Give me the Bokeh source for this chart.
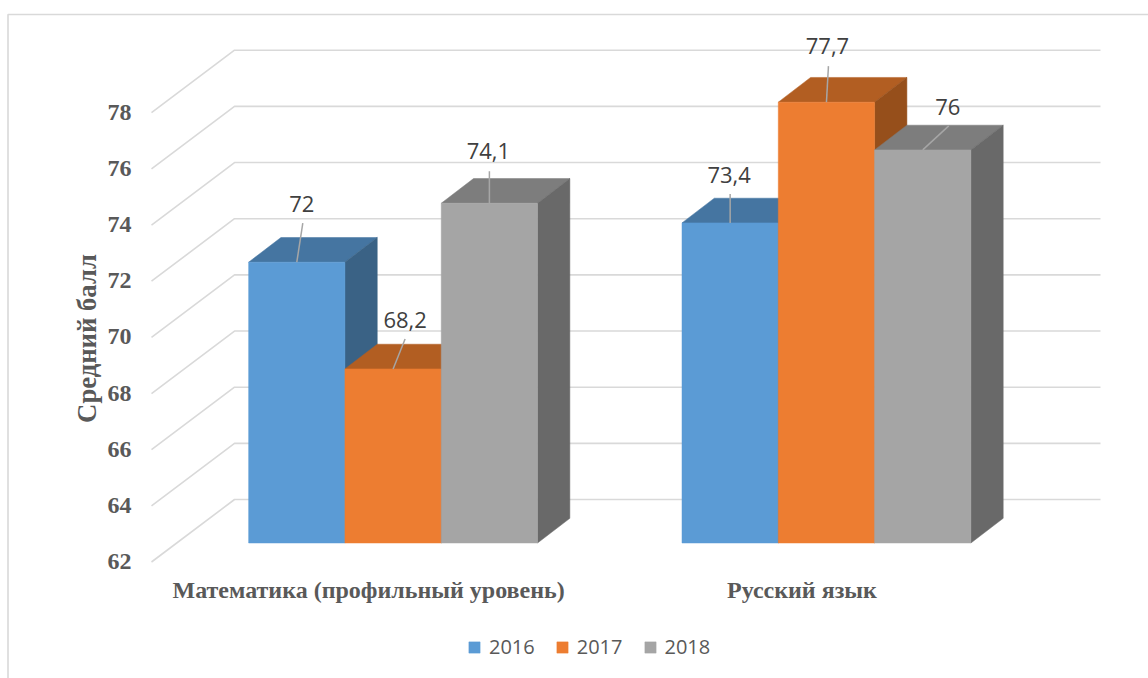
from bokeh.plotting import figure
from bokeh.models import Range1d, LinearAxis, FixedTicker, Legend, LegendItem, Label
from bokeh.core.properties import value
from bokeh.embed import file_html
from bokeh.resources import INLINE

categories = ["Математика (профильный уровень)", "Русский язык"]
years = ["2016", "2017", "2018"]
values_2016 = [72, 73.4]
values_2017 = [68.2, 77.7]
values_2018 = [74.1, 76]
y_ticks = [62, 64, 66, 68, 70, 72, 74, 76, 78]
y_title = "Средний балл"

series = [values_2016, values_2017, values_2018]
label_texts = [["72", "73,4"], ["68,2", "77,7"], ["74,1", "76"]]
front_colors = ["#5B9BD5", "#ED7D31", "#A5A5A5"]
top_colors = ["#4575A1", "#B25E22", "#7D7D7D"]
side_colors = ["#3A6285", "#964F1B", "#696969"]
GRID = "#D9D9D9"
TEXT = "#595959"

W, H = 1148, 678
# scale: one category is 433.35 px wide, one value unit is 28.08 px tall
PX_X = 433.35
PX_Y = 28.08
BASE = 62
SLOT = 1 / 4.5
DEPTH_X, DEPTH_Y = 32.3 / PX_X, 24.7 / PX_Y
# label leader ends and text centres relative to the top centre of a bar, in px
leader_ends = [[(6, 39), (0, 29)], [(12, 30), (2, 36)], [(0, 32), (26, 24)]]
text_offsets = [[(5, 58.5), (-1, 47.5)], [(12, 48.5), (1, 56.5)], [(-1, 52.5), (25, 42.5)]]


def fx(px):  # page pixel column to category units
    return (px - 392.6) / PX_X


def fy(py):  # page pixel row to value units on the bars' plane
    return BASE + (542.5 - py) / PX_Y


p = figure(width=W, height=H, output_backend="svg", toolbar_location=None,
           x_axis_type=None, y_axis_type=None,
           x_range=Range1d(fx(0), fx(W)), y_range=Range1d(fy(H), fy(0)),
           min_border_left=0, min_border_right=0, min_border_top=0, min_border_bottom=0,
           outline_line_color=None, background_fill_color="white", border_fill_color="white")
p.xgrid.visible = False
p.ygrid.visible = False

front_shift, back_shift = 18.5 / PX_Y, 43.5 / PX_Y
label_shift = 24.5 / PX_X
p.extra_y_ranges["front"] = Range1d(fy(H) + front_shift, fy(0) + front_shift)
p.extra_x_ranges["labels"] = Range1d(fx(0) + label_shift, fx(W) + label_shift)

y_axis = LinearAxis(y_range_name="front", ticker=FixedTicker(ticks=y_ticks), fixed_location=fx(143))
x_axis = LinearAxis(x_range_name="labels", ticker=FixedTicker(ticks=[0, 1]), fixed_location=fy(568),
                    major_label_overrides={0: categories[0], 1: categories[1]})
for ax, size, standoff in ((y_axis, "24px", 6), (x_axis, "24px", 2)):
    ax.axis_line_color = None
    ax.major_tick_line_color = None
    ax.minor_tick_line_color = None
    ax.major_label_text_font = "Liberation Serif"
    ax.major_label_text_font_style = "bold"
    ax.major_label_text_font_size = size
    ax.major_label_text_color = TEXT
    ax.major_label_standoff = standoff
p.add_layout(y_axis, "left")
p.add_layout(x_axis, "below")

# chart area border, top and left
p.line([fx(7.5), fx(7.5), fx(W)], [fy(H), fy(14), fy(14)], line_color=GRID, line_width=1.6)

# wall grid: front end, back corner, back right end
wall_x = [fx(151), fx(234), fx(1100)]
p.multi_line([wall_x for _ in y_ticks],
             [[t - 19 / PX_Y, t + back_shift, t + back_shift] for t in y_ticks],
             line_color=GRID, line_width=1.6)

items = []
for s, vals in enumerate(series):
    lefts = [i + (s - 1.5) * SLOT for i in range(len(vals))]
    rights = [l + SLOT for l in lefts]
    p.patches([[l, l + DEPTH_X, r + DEPTH_X, r] for l, r in zip(lefts, rights)],
              [[v, v + DEPTH_Y, v + DEPTH_Y, v] for v in vals],
              fill_color=top_colors[s], line_color=top_colors[s], line_width=0.5)
    p.patches([[r, r + DEPTH_X, r + DEPTH_X, r] for r in rights],
              [[v, v + DEPTH_Y, BASE + DEPTH_Y, BASE] for v in vals],
              fill_color=side_colors[s], line_color=side_colors[s], line_width=0.5)
    front = p.quad(left=lefts, right=rights, top=vals, bottom=BASE,
                   fill_color=front_colors[s], line_color=front_colors[s], line_width=0.5)
    items.append(LegendItem(label=years[s], renderers=[front]))

# data labels with leader lines, above all bars
for s, vals in enumerate(series):
    centers = [i + (s - 1) * SLOT for i in range(len(vals))]
    p.multi_line([[c, c + e[0] / PX_X] for c, e in zip(centers, leader_ends[s])],
                 [[v, v + e[1] / PX_Y] for v, e in zip(vals, leader_ends[s])],
                 line_color="#A6A6A6", line_width=1.5)
    p.text([c + o[0] / PX_X for c, o in zip(centers, text_offsets[s])],
           [v + o[1] / PX_Y for v, o in zip(vals, text_offsets[s])],
           text=label_texts[s], text_align="center", text_baseline="middle",
           text_font=value("Open Sans"), text_font_size="22px", text_color="#404040")

p.add_layout(Label(x=fx(86), y=fy(338), text=y_title, angle=90, angle_units="deg",
                   text_align="center", text_baseline="middle", text_font="Liberation Serif",
                   text_font_style="bold", text_font_size="26.7px", text_color=TEXT))

legend = Legend(items=items, orientation="horizontal", location=(467, 18),
                glyph_width=14, glyph_height=14, label_standoff=8, spacing=20, padding=0, margin=0,
                border_line_color=None, background_fill_alpha=0,
                label_text_font="Open Sans", label_text_font_size="20px", label_text_color=TEXT)
p.add_layout(legend)

open("out.html", "w").write(file_html(p, INLINE))
